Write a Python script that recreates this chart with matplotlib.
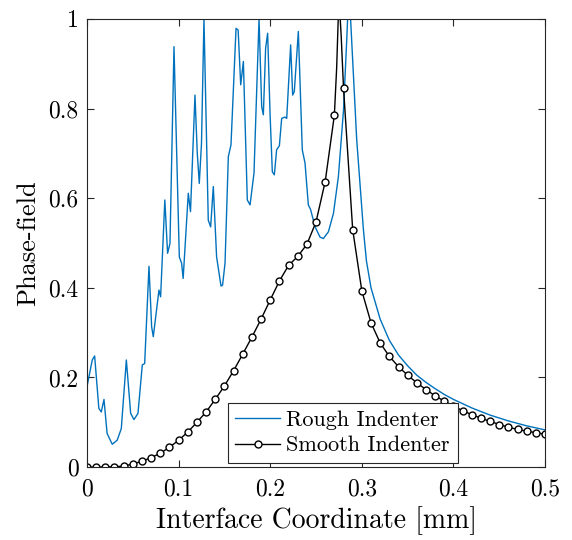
import numpy as np
import matplotlib
matplotlib.use('Agg')
import matplotlib.pyplot as plt

# rough indenter curve
rough_x = [0.0, 0.0058, 0.0084, 0.013, 0.0156, 0.0186, 0.022, 0.0276, 0.033, 0.0375,
           0.043, 0.0477, 0.0513, 0.0557, 0.0604, 0.063, 0.0677, 0.0706, 0.0724, 0.0786,
           0.0804, 0.085, 0.088, 0.0906, 0.095, 0.1008, 0.1033, 0.105, 0.1106, 0.113,
           0.1179, 0.1204, 0.1226, 0.125, 0.1277, 0.1324, 0.135, 0.1379, 0.1415, 0.1463,
           0.148, 0.1507, 0.1543, 0.1572, 0.1627, 0.165, 0.1678, 0.1707, 0.175, 0.178,
           0.1823, 0.1878, 0.1907, 0.1925, 0.195, 0.1972, 0.1998, 0.2023, 0.2045, 0.207,
           0.21, 0.2125, 0.216, 0.218, 0.2223, 0.2245, 0.2263, 0.2307, 0.235, 0.238,
           0.2416, 0.244, 0.249, 0.2544, 0.258, 0.2635, 0.269, 0.2744, 0.28, 0.2835,
           0.2855, 0.2865, 0.2877, 0.2944, 0.3017, 0.305, 0.31, 0.32, 0.33, 0.34,
           0.35, 0.36, 0.37, 0.38, 0.39, 0.40, 0.42, 0.44, 0.46, 0.48, 0.50]
rough_y = [0.179, 0.239, 0.248, 0.131, 0.123, 0.151, 0.075, 0.051, 0.06, 0.086,
           0.239, 0.12, 0.106, 0.12, 0.228, 0.231, 0.448, 0.313, 0.291, 0.395,
           0.38, 0.596, 0.477, 0.499, 0.938, 0.469, 0.455, 0.421, 0.611, 0.57,
           0.83, 0.70, 0.633, 0.722, 1.0, 0.551, 0.536, 0.626, 0.469, 0.404,
           0.406, 0.455, 0.693, 0.719, 0.979, 0.975, 0.853, 0.905, 0.596, 0.585,
           0.656, 1.0, 0.804, 0.786, 0.935, 0.968, 0.79, 0.659, 0.652, 0.708,
           0.717, 0.778, 0.781, 0.778, 0.942, 0.83, 0.838, 0.972, 0.708, 0.678,
           0.585, 0.575, 0.536, 0.513, 0.51, 0.525, 0.566, 0.648, 0.797, 0.953,
           1.05, 1.08, 1.0, 0.73, 0.53, 0.46, 0.40, 0.33, 0.283, 0.25,
           0.226, 0.205, 0.189, 0.175, 0.162, 0.151, 0.132, 0.116, 0.103, 0.092, 0.083]

# smooth indenter curve, markers every 0.01 mm, extra points at the peak
smooth_x = [0.0, 0.01, 0.02, 0.03, 0.04, 0.05, 0.06, 0.07, 0.08, 0.09,
            0.10, 0.11, 0.12, 0.13, 0.14, 0.15, 0.16, 0.17, 0.18, 0.19,
            0.20, 0.21, 0.22, 0.23, 0.24, 0.25, 0.26, 0.27, 0.2725, 0.275,
            0.2775, 0.28, 0.29, 0.30, 0.31, 0.32, 0.33, 0.34, 0.35, 0.36,
            0.37, 0.38, 0.39, 0.40, 0.41, 0.42, 0.43, 0.44, 0.45, 0.46,
            0.47, 0.48, 0.49, 0.50]
smooth_y = [0.0, 0.0, 0.0, 0.001, 0.002, 0.007, 0.013, 0.021, 0.031, 0.044,
            0.06, 0.078, 0.10, 0.123, 0.151, 0.181, 0.215, 0.252, 0.29, 0.33,
            0.373, 0.415, 0.45, 0.47, 0.497, 0.547, 0.637, 0.785, 0.89, 1.05,
            0.96, 0.845, 0.53, 0.393, 0.322, 0.277, 0.247, 0.224, 0.205, 0.188,
            0.173, 0.159, 0.147, 0.136, 0.126, 0.117, 0.109, 0.102, 0.095, 0.089,
            0.084, 0.080, 0.077, 0.073]

xticks = [0, 0.1, 0.2, 0.3, 0.4, 0.5]
xticklabels = ['0', '0.1', '0.2', '0.3', '0.4', '0.5']
yticks = [0, 0.2, 0.4, 0.6, 0.8, 1]
yticklabels = ['0', '0.2', '0.4', '0.6', '0.8', '1']

plt.rcParams['font.family'] = 'cmr10'
plt.rcParams['mathtext.fontset'] = 'cm'
plt.rcParams['axes.formatter.use_mathtext'] = True

fig = plt.figure(figsize=(5.72, 5.4), dpi=100)
ax = fig.add_axes([0.152, 0.135, 0.801, 0.830])

ax.plot(rough_x, rough_y, color='#0072BD', lw=1.0, label='Rough Indenter')

# markers only on the 0.01 grid
marks = [i for i, v in enumerate(smooth_x) if abs(v * 100 - round(v * 100)) < 1e-6]
ax.plot(smooth_x, smooth_y, color='black', lw=1.0, marker='o', ms=5,
        mfc='white', mec='black', mew=1.0, markevery=marks, label='Smooth Indenter')

ax.set_xlim(0, 0.5)
ax.set_ylim(0, 1)
ax.set_xticks(xticks)
ax.set_xticklabels(xticklabels)
ax.set_yticks(yticks)
ax.set_yticklabels(yticklabels)
ax.tick_params(direction='in', top=True, right=True, length=5, width=0.8,
               labelsize=17, colors='#262626', labelcolor='black')
ax.tick_params(axis='x', pad=8)
ax.tick_params(axis='y', pad=6)
for s in ax.spines.values():
    s.set_color('#262626')
    s.set_linewidth(0.8)

ax.set_xlabel('Interface Coordinate [mm]', fontsize=20, labelpad=4)
ax.set_ylabel('Phase-field', fontsize=19, labelpad=6)

leg = ax.legend(loc='lower center', bbox_to_anchor=(0.558, 0.009), fontsize=16,
                frameon=True, fancybox=False, framealpha=1, edgecolor='#262626',
                handlelength=2.0, handletextpad=0.3, borderpad=0.35, labelspacing=0.25,
                borderaxespad=0)
leg.get_frame().set_linewidth(0.8)

fig.savefig('out.png', dpi=100)
